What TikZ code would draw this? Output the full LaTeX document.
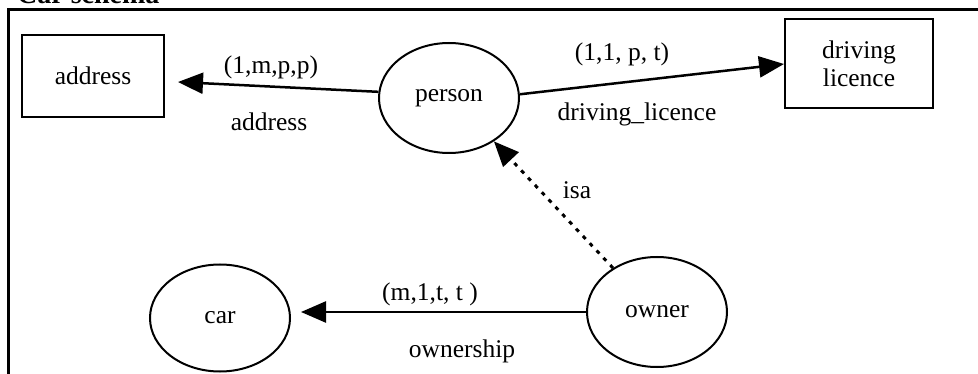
\documentclass[tikz,border=0pt]{standalone}
\usepackage{fontspec}
\setmainfont{Liberation Serif}
\usetikzlibrary{arrows.meta,shapes.geometric}
\begin{document}
\begin{tikzpicture}[x=1pt,y=-1pt,
  txt/.style={font=\fontsize{25.5}{28}\selectfont},
  lbl/.style={txt, inner sep=0pt},
  entity/.style={txt, draw, line width=2pt, rectangle, minimum width=142pt, minimum height=82pt, inner sep=0pt, align=center},
  obj/.style={txt, draw, line width=2pt, ellipse, minimum width=140pt, minimum height=110pt, inner sep=0pt},
  rel/.style={line width=2.5pt, -{Triangle[length=25pt,width=21pt]}},
  isarel/.style={rel, line width=3pt, dash pattern=on 4pt off 6pt}]
\useasboundingbox (0,0) rectangle (978,374);
\clip (0,0) rectangle (978,374);
\node[anchor=base west, font=\bfseries\fontsize{28}{30}\selectfont, inner sep=0pt] (title) at (17,4) {Car schema};
\draw[line width=3pt] (8,400) |- (1000,10);

\node[entity] (address) at (93,76) {address};
\node[obj] (person) at (449,98) {person};
\node[entity, minimum width=148pt, minimum height=89pt] (licence) at (859,64) {driving\\licence};
\node[obj, minimum height=107pt] (car) at (220,318) {car};
\node[obj] (owner) at (657,312) {owner};

\draw[rel] (person.175) -- ([xshift=13pt,yshift=-6pt]address.east);
\draw[rel] (person.3) -- (licence.west);
\draw[isarel] (owner.135) -- (person.-44);
\coordinate (carin) at ([xshift=10pt]car.east);
\draw[rel] (owner.west) -- (owner.west -| carin);

\node[lbl] (l1) at (271,67) {(1,m,p,p)};
\node[lbl] (l2) at (269,122) {address};
\node[lbl] (l3) at (622,54) {(1,1, p, t)};
\node[lbl] (l4) at (637,114) {driving\_licence};
\node[lbl] (l5) at (577,190) {isa};
\node[lbl] (l6) at (430,294) {(m,1,t, t )};
\node[lbl] (l7) at (462,351) {ownership};
\end{tikzpicture}
\end{document}
